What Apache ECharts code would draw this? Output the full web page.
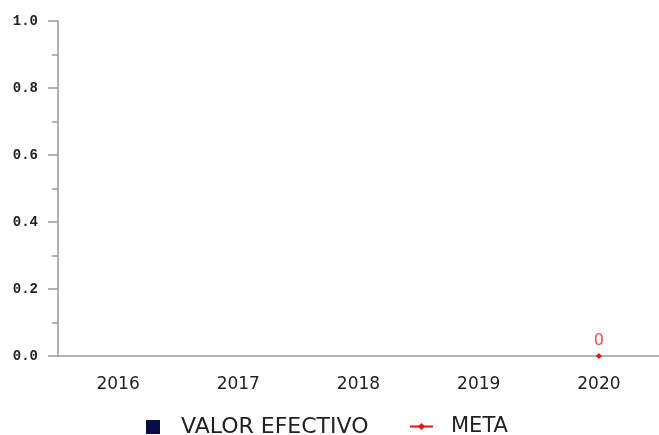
<!DOCTYPE html>
<html>
<head>
    <meta charset="utf-8">
    <script src="https://cdn.jsdelivr.net/npm/echarts@6/dist/echarts.min.js"></script>
    <style>
        html, body { margin: 0; padding: 0; background: #fff; }
        #main { width: 659px; height: 435px; }
    </style>
</head>
<body>
    <div id="main"></div>
    <script>
        var years = ['2016', '2017', '2018', '2019', '2020'];
        var valorEfectivo = [null, null, null, null, null];
        var meta = [null, null, null, null, 0];

        var chart = echarts.init(document.getElementById('main'));
        var axisColor = '#999';

        var option = {
            animation: false,
            textStyle: { fontFamily: 'DejaVu Sans' },
            grid: { left: 58, right: 0, top: 21, bottom: 79 },
            legend: [{
                left: 146,
                top: 416,
                padding: 0,
                itemWidth: 14,
                itemHeight: 14,
                textStyle: { fontSize: 22, color: '#222', padding: [0, 0, 0, 16] },
                data: [{ name: 'VALOR EFECTIVO', icon: 'rect', itemStyle: { color: '#0b0b45' } }]
            }, {
                left: 409,
                top: 416,
                padding: 0,
                itemWidth: 23,
                itemHeight: 9,
                textStyle: { fontSize: 21, color: '#222', padding: [0, 0, 0, 13] },
                data: [{ name: 'META' }]
            }],
            xAxis: {
                type: 'category',
                data: years,
                axisLine: { lineStyle: { color: axisColor, width: 1.5 } },
                axisTick: { show: false },
                axisLabel: { color: '#222', fontSize: 17, margin: 20 }
            },
            yAxis: {
                type: 'value',
                min: 0,
                max: 1,
                interval: 0.2,
                splitLine: { show: false },
                axisLine: { show: true, lineStyle: { color: axisColor, width: 1.5 } },
                axisTick: { show: true, length: 10, lineStyle: { color: axisColor, width: 1.5 } },
                minorTick: { show: true, splitNumber: 2, length: 6, lineStyle: { color: axisColor, width: 1.5 } },
                axisLabel: {
                    color: '#222', fontSize: 14, fontWeight: 'bold', margin: 20,
                    fontFamily: 'Liberation Mono',
                    formatter: function (v) { return v.toFixed(1); }
                }
            },
            series: [{
                name: 'VALOR EFECTIVO',
                type: 'bar',
                itemStyle: { color: '#0b0b45' },
                data: valorEfectivo
            }, {
                name: 'META',
                type: 'line',
                color: '#ee1111',
                symbol: 'diamond',
                symbolSize: 6,
                lineStyle: { color: '#ee1111', width: 2 },
                itemStyle: { color: '#ee1111' },
                label: { show: true, position: 'top', color: '#e05252', fontSize: 16, distance: 4 },
                data: meta
            }]
        };

        chart.setOption(option);
    </script>
</body>
</html>
